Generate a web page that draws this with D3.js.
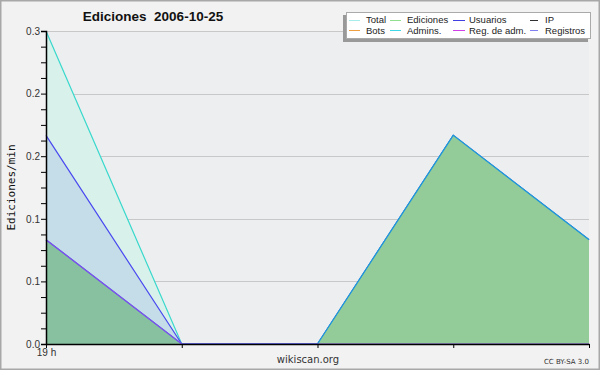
<!DOCTYPE html>
<html>
<head>
<meta charset="utf-8">
<script src="https://cdn.jsdelivr.net/npm/d3@7"></script>
<style>
  body { margin: 0; background: #f2f2f2; }
  svg { display: block; font-family: "DejaVu Sans", sans-serif; }
  text { white-space: pre; }
</style>
</head>
<body>
<svg width="600" height="370"></svg>
<script>
// hours (x positions), only the first one is labelled
const hours = [0, 1, 2, 3, 4];
const hourLabels = ['19 h', '', '', '', ''];

// edits per minute
const total = [0.3, 0, 0, 0.2, 0.1];
const usuarios = [0.2, 0, 0, 0.2, 0.1];
const ediciones = [0.1, 0, 0, 0.2, 0.1];
const registros = [0.1, 0, 0, 0, 0];

const yTicks = [0, 0.06, 0.12, 0.18, 0.24, 0.3];

const legendRows = [
  ['Total', 'Ediciones', 'Usuarios', 'IP'],
  ['Bots', 'Admins.', 'Reg. de adm.', 'Registros']
];
const legendColors = [
  ['#a8ecec', '#90e090', '#4040e0', '#303030'],
  ['#f0a040', '#40d8e8', '#d040e8', '#8080f0']
];

const svg = d3.select('svg');
const width = 600, height = 370;
const margin = { top: 31, right: 11, bottom: 26, left: 46 };

// outer frame
svg.append('rect')
  .attr('x', 0.5).attr('y', 0.5)
  .attr('width', width - 1).attr('height', height - 1)
  .attr('fill', '#f2f2f2')
  .attr('stroke', '#a8a8a8').attr('stroke-width', 2);

const x = d3.scaleLinear()
  .domain([0, 4])
  .range([margin.left, width - margin.right]);

const y = d3.scaleLinear()
  .domain([0, 0.3])
  .range([height - margin.bottom, margin.top]);

// plot background
svg.append('rect')
  .attr('x', x(0)).attr('y', y(0.3))
  .attr('width', x(4) - x(0)).attr('height', y(0) - y(0.3))
  .attr('fill', '#edeef0');

// grid
svg.append('g')
  .selectAll('line')
  .data(yTicks.slice(1))
  .enter().append('line')
  .attr('x1', x(0)).attr('x2', x(4))
  .attr('y1', d => Math.round(y(d)) + 0.5)
  .attr('y2', d => Math.round(y(d)) + 0.5)
  .attr('stroke', '#c8c8c8');

function drawLayer(values, fill, stroke) {
  const area = d3.area()
    .x((d, i) => x(hours[i]))
    .y0(y(0))
    .y1(d => y(d));
  const line = d3.line()
    .x((d, i) => x(hours[i]))
    .y(d => y(d));
  svg.append('path').datum(values)
    .attr('d', area).attr('fill', fill);
  svg.append('path').datum(values)
    .attr('d', line).attr('fill', 'none')
    .attr('stroke', stroke).attr('stroke-width', 1.2);
}

drawLayer(total, '#d9f1eb', '#38d8cc');
drawLayer(usuarios, '#c4dde8', '#4848f0');
drawLayer(ediciones, '#94cc99', '#1e9ad8');
drawLayer(registros, 'rgba(88,149,188,0.2)', '#8a44ee');

// y axis
const yAxis = svg.append('g')
  .attr('transform', `translate(${x(0)},0)`)
  .call(d3.axisLeft(y)
    .tickValues(d3.range(0, 0.3001, 0.015))
    .tickFormat(d => yTicks.some(t => Math.abs(t - d) < 1e-9) ? d3.format('.1f')(d) : '')
    .tickSize(5)
    .tickPadding(1));
yAxis.select('.domain').attr('stroke', '#000').attr('stroke-width', 1.5);
yAxis.selectAll('text').attr('font-size', 10).attr('fill', '#333');

// x axis
const xAxis = svg.append('g')
  .attr('transform', `translate(0,${y(0)})`)
  .call(d3.axisBottom(x)
    .tickValues(hours)
    .tickFormat((d, i) => hourLabels[i])
    .tickSize(4)
    .tickSizeOuter(0)
    .tickPadding(1));
xAxis.select('.domain').attr('stroke', '#000').attr('stroke-width', 1.5);
xAxis.selectAll('text').attr('font-size', 10).attr('fill', '#333');

// title
svg.append('text')
  .attr('x', 153).attr('y', 21)
  .attr('text-anchor', 'middle')
  .attr('font-family', '"Liberation Sans", Arial, sans-serif')
  .attr('font-size', 13.5).attr('font-weight', 'bold')
  .attr('fill', '#111')
  .text('Ediciones  2006-10-25');

// y label
svg.append('text')
  .attr('transform', `translate(15,${(y(0) + y(0.3)) / 2}) rotate(-90)`)
  .attr('text-anchor', 'middle')
  .attr('font-family', '"DejaVu Sans Mono", monospace')
  .attr('font-size', 11)
  .attr('fill', '#111')
  .text('Ediciones/min');

// footer
svg.append('text')
  .attr('x', 308).attr('y', 363)
  .attr('text-anchor', 'middle')
  .attr('font-size', 10).attr('fill', '#333')
  .text('wikiscan.org');
svg.append('text')
  .attr('x', 589).attr('y', 364)
  .attr('text-anchor', 'end')
  .attr('font-size', 7).attr('fill', '#333')
  .text('CC BY-SA 3.0');

// legend
const lg = svg.append('g');
lg.append('rect')
  .attr('x', 343).attr('y', 15).attr('width', 245).attr('height', 27)
  .attr('fill', '#999');
lg.append('rect')
  .attr('x', 346.5).attr('y', 12.5).attr('width', 244).attr('height', 26)
  .attr('fill', '#fff').attr('stroke', '#aaa');
const colX = [349, 390, 453, 530];
const colW = [11, 11, 12, 8];
const textX = [366, 407, 469, 545];
legendRows.forEach((row, r) => {
  row.forEach((name, c) => {
    const yy = 19.5 + r * 10.5;
    lg.append('line')
      .attr('x1', colX[c]).attr('x2', colX[c] + colW[c])
      .attr('y1', Math.round(yy) + 0.5).attr('y2', Math.round(yy) + 0.5)
      .attr('stroke', legendColors[r][c]);
    lg.append('text')
      .attr('x', textX[c]).attr('y', yy + 3.5)
      .attr('font-family', '"Liberation Sans", Arial, sans-serif')
      .attr('font-size', 9.5).attr('fill', '#222')
      .text(name);
  });
});
</script>
</body>
</html>
